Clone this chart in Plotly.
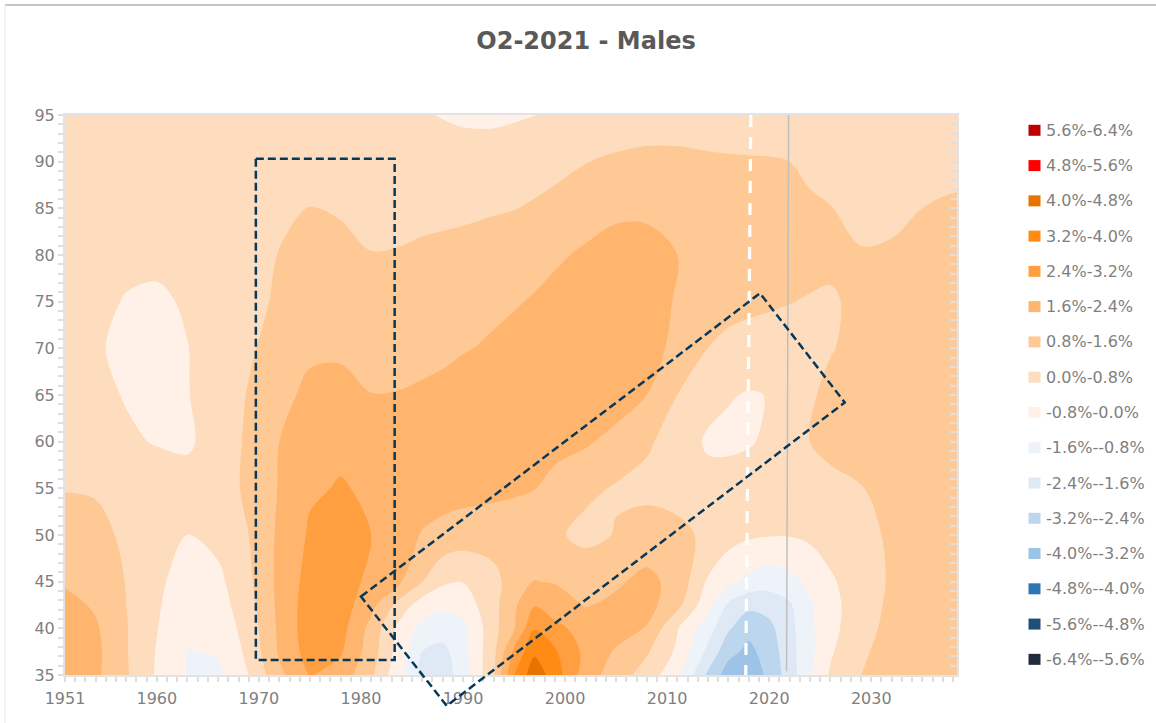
import plotly.graph_objects as go

years = [1951,1954,1957,1960,1963,1966,1969,1972,1975,1978,1981,1984,1986,1988,1990,1993,1995,1997,1999,
         2002,2005,2008,2011,2014,2016,2018,2020,2022,2024,2026,2029,2032,2035,2038,2041]
ages = [35,37.5,40,42.5,45,50,55,60,65,70,75,80,85,90,95]

age35 = [2.0,1.75,.9,-.1,-.85,-.9,0,1.4,2.45,2.05,.95,-.75,-1.8,-2.05,-1.2,.7,3.2,4.5,3.6,2.0,1.2,.45,-.6,-2.55,-3.6,-3.75,-3.0,-2.0,-.9,.1,.8,1.1,1.15,1.2,1.2]
age37 = [2.05,1.8,.85,-.05,-.82,-.75,.2,1.7,2.75,2.5,1.2,-.5,-1.6,-1.85,-1.1,.6,2.55,3.85,3.3,2.2,1.5,.9,-.15,-1.8,-2.95,-3.4,-2.85,-1.9,-1.0,-.1,.7,1.05,1.1,1.15,1.15]
age40 = [2.0,1.7,.85,.03,-.65,-.55,.35,1.75,2.85,2.7,1.35,-.35,-1.0,-1.2,-1.05,.55,1.55,3.15,2.6,2.1,2.0,1.55,.05,-1.25,-2.3,-2.95,-2.6,-1.85,-.95,-.25,.55,1.0,1.1,1.15,1.15]
age42 = [1.85,1.5,.8,.1,-.55,-.35,.5,1.8,2.8,2.8,1.85,.4,-.4,-.65,-.45,.55,1.45,2.35,2.0,1.55,1.75,1.9,1.05,-.55,-1.75,-2.2,-2.1,-1.7,-.9,-.25,.45,.95,1.05,1.1,1.1]
age45 = [1.5,1.2,.78,.2,-.45,-.2,.65,1.8,2.7,2.8,2.2,1.6,.8,.15,.02,.55,1.2,1.62,1.55,1.45,1.5,1.8,1.35,-.1,-.6,-1.05,-1.25,-1.05,-.6,-.1,.4,.9,1.05,1.1,1.1]
age50 = [1.3,1.05,.65,.3,0,.25,.8,1.75,2.5,2.7,2.4,1.9,1.55,1.35,1.2,1.15,1.2,1.15,.95,.55,.85,1.15,1.05,.6,.3,.12,.05,.04,.15,.3,.6,.9,1.05,1.1,1.1]
age55 = [.75,.72,.6,.45,.4,.55,.9,1.65,2.3,2.45,2.3,2.1,2.0,1.95,1.9,1.8,1.7,1.62,1.35,1.0,.72,.6,.45,.3,.33,.3,.28,.4,.5,.6,.78,.95,1.05,1.1,1.1]
age60 = [.5,.3,.12,-.05,-.15,.45,.9,1.6,2.05,2.25,2.3,2.2,2.17,2.15,2.15,2.1,2.05,2.0,1.85,1.7,1.35,.9,.5,-.12,-.15,-.05,.1,.5,.8,1.0,1.05,1.1,1.1,1.1,1.1]
age65 = [.45,.2,-.05,-.3,-.03,.35,.85,1.35,1.8,2.0,1.62,1.65,1.75,1.85,1.95,2.05,2.1,2.15,2.2,2.2,2.0,1.6,.8,.3,.05,-.05,.02,.35,.7,1.0,1.1,1.1,1.1,1.1,1.1]
age70 = [.4,.1,-.2,-.3,-.02,.35,.7,1.1,1.45,1.4,1.25,1.25,1.3,1.4,1.55,1.7,1.8,1.9,2.0,2.1,2.1,1.9,1.4,.8,.6,.5,.45,.45,.5,.75,1.05,1.1,1.1,1.1,1.1]
age75 = [.4,.2,-.05,-.15,.1,.35,.6,.9,1.15,1.1,1.0,1.05,1.1,1.2,1.3,1.45,1.55,1.65,1.8,1.95,2.0,1.85,1.55,1.2,1.05,.97,.9,.82,.75,.7,1.0,1.1,1.1,1.1,1.1]
age80 = [.4,.3,.2,.2,.25,.35,.5,.82,1.05,.95,.82,.85,.92,.98,1.05,1.2,1.3,1.4,1.5,1.7,1.8,1.8,1.6,1.3,1.2,1.13,1.1,1.07,1.03,.98,.85,.9,1.05,1.1,1.1]
age85 = [.35,.3,.3,.3,.35,.4,.5,.7,.82,.75,.6,.6,.62,.63,.65,.72,.78,.88,1.0,1.3,1.5,1.5,1.2,1.1,1.07,1.03,1.0,.93,.87,.82,.6,.62,.8,.92,.92]
age90 = [.3,.3,.3,.3,.3,.3,.35,.4,.4,.4,.38,.35,.32,.3,.28,.3,.4,.5,.6,.78,.9,.95,.95,.9,.88,.86,.85,.8,.7,.55,.4,.45,.5,.55,.55]
age95 = [.3,.3,.3,.3,.3,.3,.3,.3,.3,.25,.2,.15,.05,-.03,-.1,-.12,-.08,-.01,.1,.25,.4,.5,.5,.45,.42,.4,.4,.37,.33,.3,.25,.3,.3,.3,.3]
z_rows = [age35,age37,age40,age42,age45,age50,age55,age60,age65,age70,age75,age80,age85,age90,age95]

band_labels = ["5.6%-6.4%","4.8%-5.6%","4.0%-4.8%","3.2%-4.0%","2.4%-3.2%","1.6%-2.4%","0.8%-1.6%","0.0%-0.8%",
               "-0.8%-0.0%","-1.6%--0.8%","-2.4%--1.6%","-3.2%--2.4%","-4.0%--3.2%","-4.8%--4.0%","-5.6%--4.8%","-6.4%--5.6%"]
band_colors = ["#C00000","#FF0000","#E97300","#FF8A14","#FF9F40","#FFB56E","#FFC996","#FEDDBF",
               "#FFF1E7","#EEF3F9","#DEE9F5","#BCD6EE","#9DC3E6","#2E75B6","#1F4E79","#222B3A"]

xtick_vals = [1951,1960,1970,1980,1990,2000,2010,2020,2030]

box_x = [1969.7,1983.3,1983.3,1969.7,1969.7]
box_y = [90.3,90.3,36.6,36.6,90.3]
cohort_x = [1980.0,2019.1,2027.4,1988.4,1980.0]
cohort_y = [43.4,75.9,64.2,31.7,43.4]
white_x = [2018.2,2017.7]
white_y = [95,35]
grey_x = [2021.9,2021.7]
grey_y = [95,35.4]

GREY = "#7F7F7F"
FONT = "DejaVu Sans"
W, H = 1156, 723
L, R, T, B = 65, 199, 115, 48
PW, PH = W - L - R, H - T - B
X0, X1, Y0, Y1 = 1951, 2038.4, 35, 95

n = len(band_colors)
ascending = band_colors[::-1]
scale = []
for i, c in enumerate(ascending):
    scale += [[i/n, c], [(i+1)/n, c]]

def px(xp):
    return (xp - L) / PW
def py(yp):
    return 1 - (yp - T) / PH
def path_of(xs, ys):
    pts = [((x - X0)/(X1 - X0), (y - Y0)/(Y1 - Y0)) for x, y in zip(xs, ys)]
    return "M" + " L".join(f"{a:.5f},{b:.5f}" for a, b in pts) + " Z"

fig = go.Figure()
fig.add_trace(go.Contour(x=years, y=ages, z=z_rows, zmin=-6.4, zmax=6.4, zauto=False,
    colorscale=scale, showscale=False, hoverinfo="skip", showlegend=False,
    autocontour=False, contours=dict(coloring="fill", start=-6.4, end=6.4, size=0.8, showlines=False),
    line=dict(width=0, smoothing=1)))
fig.add_trace(go.Scatter(x=white_x, y=white_y, mode="lines", showlegend=False, hoverinfo="skip",
    line=dict(color="white", width=3.2, dash="12px,10px")))
fig.add_trace(go.Scatter(x=grey_x, y=grey_y, mode="lines", showlegend=False, hoverinfo="skip",
    line=dict(color="#BFBFBF", width=1.5)))
fig.add_trace(go.Scatter(x=[None], y=[None], yaxis="y2", showlegend=False, hoverinfo="skip"))

shapes = []
for xs, ys in ((box_x, box_y), (cohort_x, cohort_y)):
    shapes.append(dict(type="path", xref="paper", yref="paper", path=path_of(xs, ys),
                       line=dict(color="#06385A", width=2.5, dash="8px,4px")))
shapes.append(dict(type="line", xref="paper", yref="paper", x0=px(5), x1=px(W), y0=py(5), y1=py(5),
                   line=dict(color="#8C8C8C", width=1)))
shapes.append(dict(type="line", xref="paper", yref="paper", x0=px(5), x1=px(5), y0=py(H), y1=py(5),
                   line=dict(color="#E6E6E6", width=1)))
annotations = []
for i, (lab, col) in enumerate(zip(band_labels, band_colors)):
    yc = 130.3 + i * 35.27
    shapes.append(dict(type="rect", xref="paper", yref="paper", x0=px(1028.5), x1=px(1040.5),
                       y0=py(yc + 5.5), y1=py(yc - 5.5), fillcolor=col, line=dict(width=0)))
    annotations.append(dict(text=lab, xref="paper", yref="paper", x=px(1045), y=py(yc), xanchor="left",
                            yanchor="middle", showarrow=False, xshift=0,
                            font=dict(family=FONT, size=16, color=GREY), borderpad=0))

tick = dict(ticks="outside", ticklen=5, tickwidth=2, tickcolor="#DEDEDE")
fig.update_layout(
    width=W, height=H, paper_bgcolor="white", plot_bgcolor="white",
    margin=dict(l=L, r=R, t=T, b=B), showlegend=False,
    font=dict(family=FONT, size=16, color=GREY),
    title=dict(text="<b>O2-2021 - Males</b>", x=586/W, xanchor="center", y=1-41/H, yanchor="middle",
               font=dict(family=FONT, size=24, color="#595959")),
    xaxis=dict(range=[X0, X1], tickmode="array", tickvals=xtick_vals, showgrid=False, zeroline=False,
               showline=True, linecolor="#E3E3E3", linewidth=2, mirror=True, tickfont=dict(size=16, color=GREY),
               ticklabelstandoff=3, minor=dict(dtick=1, tick0=1951, showgrid=False, **tick), **tick),
    yaxis=dict(range=[Y0, Y1], dtick=5, tick0=35, showgrid=False, zeroline=False,
               showline=True, linecolor="#E3E3E3", linewidth=2, mirror=True, tickfont=dict(size=16, color=GREY),
               minor=dict(dtick=1, tick0=35, showgrid=False, **tick), **tick),
    yaxis2=dict(range=[Y0, Y1], overlaying="y", side="right", dtick=1, tick0=35, showgrid=False, zeroline=False,
                showticklabels=False, ticks="inside", ticklen=7, tickwidth=2, tickcolor="#DEDEDE"),
    shapes=shapes, annotations=annotations,
)
fig.write_html("out.html", config=dict(displayModeBar=False), post_script="document.body.style.margin='0';")
